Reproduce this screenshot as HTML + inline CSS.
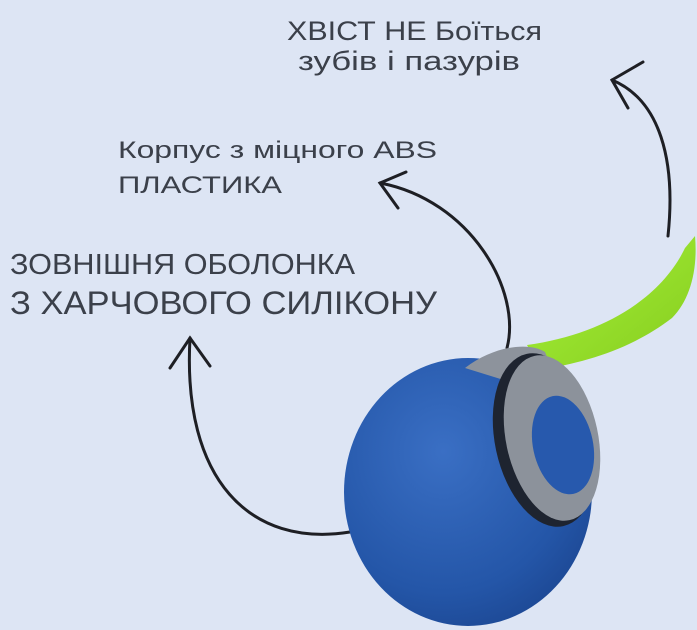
<!DOCTYPE html>
<html><head><meta charset="utf-8"><style>
html,body{margin:0;padding:0;background:#dde5f4;}
svg{display:block}
text{font-family:"Liberation Sans Narrow","Liberation Sans",sans-serif;fill:#3b404a}
</style></head><body>
<svg width="697" height="630" viewBox="0 0 697 630" xmlns="http://www.w3.org/2000/svg">
<defs>
<radialGradient id="bl" cx="0.4" cy="0.35" r="0.75">
<stop offset="0" stop-color="#3a6fc4"/><stop offset="0.7" stop-color="#2456a8"/><stop offset="1" stop-color="#1b4590"/></radialGradient>
<linearGradient id="gr" x1="0" y1="0" x2="1" y2="1"><stop offset="0" stop-color="#a6f23a"/><stop offset="1" stop-color="#86cc1e"/></linearGradient>
</defs>
<rect width="697" height="630" fill="#dde5f4"/>
<text x="287" y="40" font-size="27" textLength="255" lengthAdjust="spacingAndGlyphs">ХВІСТ НЕ Боїться</text>
<text x="298" y="70" font-size="27" textLength="222" lengthAdjust="spacingAndGlyphs">зубів і пазурів</text>
<text x="118" y="158" font-size="24" textLength="319" lengthAdjust="spacingAndGlyphs">Корпус з міцного ABS</text>
<text x="118" y="193" font-size="24" textLength="164" lengthAdjust="spacingAndGlyphs">ПЛАСТИКА</text>
<text x="10" y="274" font-size="29" textLength="345" lengthAdjust="spacingAndGlyphs">ЗОВНІШНЯ ОБОЛОНКА</text>
<text x="10" y="314" font-size="32" textLength="427" lengthAdjust="spacingAndGlyphs">З ХАРЧОВОГО СИЛІКОНУ</text>
<g fill="none" stroke="#1e1f24" stroke-width="3" stroke-linecap="round">
<path d="M668,236 C676,160 660,100 612,80"/>
<path d="M643,62 L612,80 L628,108"/>
<path d="M507,348 C522,290 470,200 380,183"/>
<path d="M406,172 L380,183 L398,208"/>
<path d="M350,532 C250,548 182,480 190,338"/>
<path d="M170,368 L190,338 L210,366"/>
</g>
<path d="M527,345 C600,335 660,300 685,248 L695,236 C698,270 690,300 672,318 C630,350 585,362 540,370 Z" fill="url(#gr)"/>
<ellipse cx="468" cy="492" rx="124" ry="134" fill="url(#bl)"/>
<path d="M465,368 C495,345 530,342 545,352 L565,400 L520,385 Z" fill="#8d939c"/>
<ellipse cx="545" cy="440" rx="50" ry="88" transform="rotate(-12 545 440)" fill="#1e2430"/>
<ellipse cx="552" cy="438" rx="46" ry="84" transform="rotate(-12 552 438)" fill="#8c929b"/>
<ellipse cx="563" cy="445" rx="30" ry="50" transform="rotate(-12 563 445)" fill="#2759ad"/>
</svg>
</body></html>
